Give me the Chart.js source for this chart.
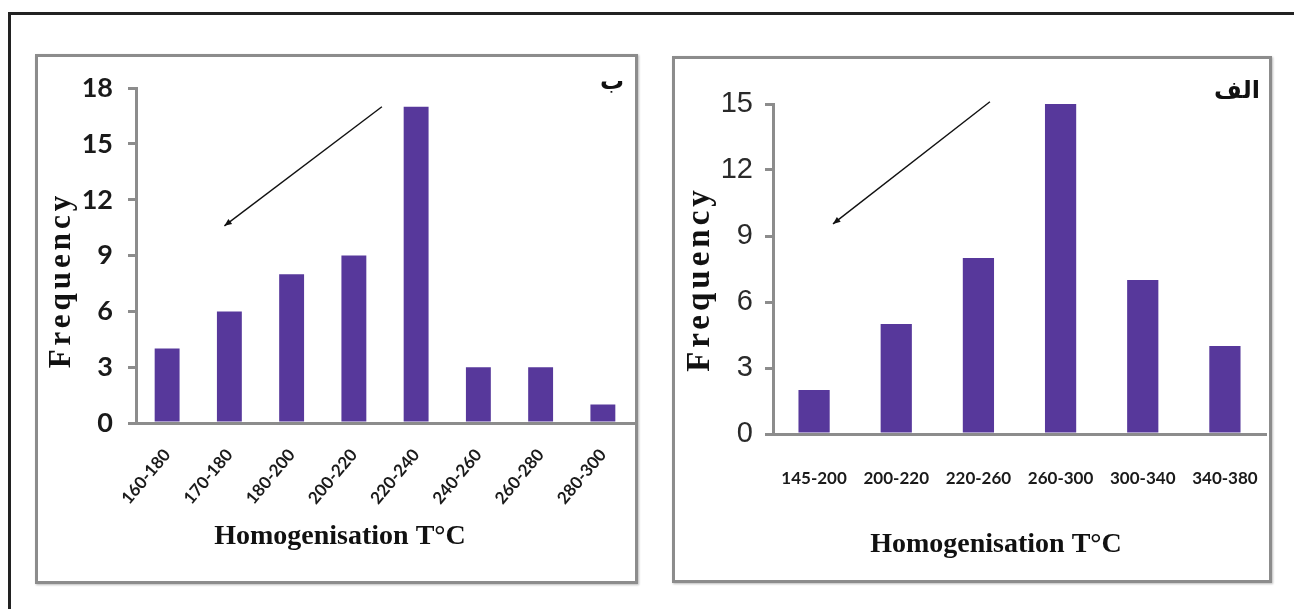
<!DOCTYPE html>
<html>
<head>
<meta charset="utf-8">
<script src="https://cdn.jsdelivr.net/npm/chart.js@4"></script>
<style>
  body { margin: 0; background: #fff; width: 1294px; height: 609px; overflow: hidden; position: relative; }
  .frame { position: absolute; left: 8px; top: 12px; width: 1300px; height: 620px; border: 3px solid #222; }
  .panel { position: absolute; border: 3px solid #8c8c8c; box-sizing: border-box; box-shadow: 1px 1px 2px #bbb; }
  #panelB { left: 35px; top: 54px; width: 603px; height: 530px; }
  #panelA { left: 672px; top: 56px; width: 600px; height: 527px; }
  canvas { position: absolute; }
  #chartB { left: 38px; top: 57px; }
  #chartA { left: 675px; top: 60px; }
</style>
</head>
<body>
<div class="frame"></div>
<div class="panel" id="panelB"></div>
<div class="panel" id="panelA"></div>
<canvas id="chartB" width="597" height="524"></canvas>
<canvas id="chartA" width="594" height="520"></canvas>
<script>
const leftCategories = ['160-180', '170-180', '180-200', '200-220', '220-240', '240-260', '260-280', '280-300'];
const leftFrequency = [4, 6, 8, 9, 17, 3, 3, 1];
const leftYTicks = [0, 3, 6, 9, 12, 15, 18];

const rightCategories = ['145-200', '200-220', '220-260', '260-300', '300-340', '340-380'];
const rightFrequency = [2, 5, 8, 15, 7, 4];
const rightYTicks = [0, 3, 6, 9, 12, 15];

const xTitle = 'Homogenisation T°C';
const yTitle = 'Frequency';

// arrow ends in data units: [category index, frequency]
const leftArrow = [[3.45, 17], [0.92, 10.6]];
const rightArrow = [[2.14, 15.1], [0.23, 9.55]];

const barColor = '#57389b';
const axisColor = '#8c8c8c';

// titles, panel letter and arrow
const decor = {
  id: 'decor',
  afterDraw(chart, args, o) {
    const ctx = chart.ctx;
    const xs = chart.scales.x, ys = chart.scales.y;
    ctx.save();
    ctx.fillStyle = '#111';
    ctx.textAlign = 'center';
    ctx.textBaseline = 'middle';
    ctx.font = 'bold 28px "Liberation Serif", "Times New Roman", serif';
    ctx.fillText(xTitle, o.xTitle[0], o.xTitle[1]);

    ctx.save();
    ctx.font = 'bold ' + o.ySize + 'px "Liberation Serif", "Times New Roman", serif';
    ctx.letterSpacing = o.ySpacing + 'px';
    ctx.translate(o.yTitle[0], o.yTitle[1]);
    ctx.rotate(-Math.PI / 2);
    ctx.fillText(yTitle, o.ySpacing / 2, 0);
    ctx.restore();

    ctx.font = 'bold 24px "DejaVu Sans", sans-serif';
    ctx.fillText(o.mark, o.markPos[0], o.markPos[1]);

    // arrow
    const a = o.arrow;
    const x1 = xs.getPixelForValue(a[0][0]), y1 = ys.getPixelForValue(a[0][1]);
    const x2 = xs.getPixelForValue(a[1][0]), y2 = ys.getPixelForValue(a[1][1]);
    ctx.strokeStyle = '#111';
    ctx.lineWidth = 1.4;
    ctx.beginPath();
    ctx.moveTo(x1, y1);
    ctx.lineTo(x2, y2);
    ctx.stroke();
    const ang = Math.atan2(y2 - y1, x2 - x1);
    ctx.beginPath();
    ctx.moveTo(x2, y2);
    ctx.lineTo(x2 - 8 * Math.cos(ang - 0.4), y2 - 8 * Math.sin(ang - 0.4));
    ctx.lineTo(x2 - 8 * Math.cos(ang + 0.4), y2 - 8 * Math.sin(ang + 0.4));
    ctx.closePath();
    ctx.fillStyle = '#111';
    ctx.fill();
    ctx.restore();
  }
};

function makeChart(id, cats, vals, yTicks, s) {
  return new Chart(document.getElementById(id), {
    type: 'bar',
    data: {
      labels: cats,
      datasets: [{
        data: vals,
        backgroundColor: barColor,
        borderWidth: 0,
        barPercentage: s.barPct,
        categoryPercentage: 1
      }]
    },
    options: {
      responsive: false,
      animation: false,
      layout: { padding: s.padding },
      plugins: {
        legend: { display: false },
        tooltip: { enabled: false },
        decor: s.decor
      },
      scales: {
        x: {
          grid: { display: false },
          border: { display: true, color: axisColor, width: 3 },
          ticks: {
            color: '#1a1a1a',
            font: s.xFont,
            maxRotation: s.rot,
            minRotation: s.rot,
            padding: s.xPad,
            autoSkip: false
          },
          afterFit(sc) {
            sc.height = s.xHeight;
            sc.paddingLeft = 0;
            sc.paddingRight = 0;
          }
        },
        y: {
          min: 0,
          max: yTicks[yTicks.length - 1],
          afterBuildTicks(sc) { sc.ticks = yTicks.map(v => ({ value: v })); },
          grid: { drawOnChartArea: false, drawTicks: true, tickLength: 8, color: axisColor, lineWidth: 3 },
          border: { color: axisColor, width: 3 },
          ticks: { color: s.yColor, font: s.yFont, padding: s.yPad },
          afterFit(sc) { sc.width = 98; }
        }
      }
    },
    plugins: [decor]
  });
}

makeChart('chartB', leftCategories, leftFrequency, leftYTicks, {
  barPct: 0.4,
  padding: { top: 19, right: 1, left: 0, bottom: 0 },
  xFont: { family: 'Lato', weight: 'bold', size: 17 },
  rot: 50,
  xPad: 14,
  xHeight: 158,
  yColor: '#1a1a1a',
  yFont: { family: 'Lato', weight: 'bold', size: 27 },
  yPad: 15,
  decor: { xTitle: [302, 480], yTitle: [24, 225], ySize: 31, ySpacing: 4, mark: 'ب', markPos: [574, 26], arrow: leftArrow }
});

makeChart('chartA', rightCategories, rightFrequency, rightYTicks, {
  barPct: 0.38,
  padding: { top: 44, right: 3, left: 0, bottom: 0 },
  xFont: { family: 'Lato', weight: 'bold', size: 17 },
  rot: 0,
  xPad: 26,
  xHeight: 146,
  yColor: '#2a2a2a',
  yFont: { family: '"Liberation Sans Narrow", "Liberation Sans", Arial', weight: 'normal', size: 29 },
  yPad: 12,
  decor: { xTitle: [321, 485], yTitle: [25, 221], ySize: 33, ySpacing: 4, mark: 'الف', markPos: [562, 32], arrow: rightArrow }
});
</script>
</body>
</html>
